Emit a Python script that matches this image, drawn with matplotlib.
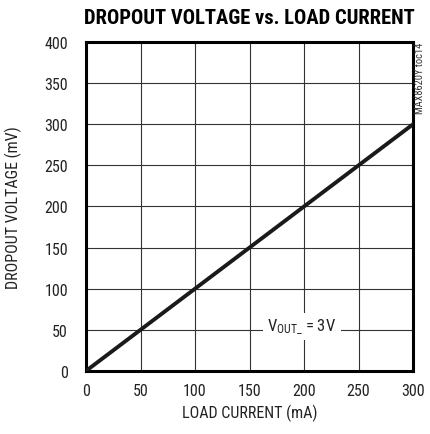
import matplotlib
matplotlib.use("Agg")
import matplotlib.pyplot as plt

plt.rcParams["font.family"] = ["Roboto Condensed", "DejaVu Sans"]
plt.rcParams["mathtext.fontset"] = "custom"
plt.rcParams["mathtext.rm"] = "Roboto Condensed"
plt.rcParams["mathtext.it"] = "Roboto Condensed"

load_current = [0, 50, 100, 150, 200, 250, 300]
dropout_mv = [0, 50, 100, 150, 200, 250, 300]
x_ticks = [0, 50, 100, 150, 200, 250, 300]
y_ticks = [0, 50, 100, 150, 200, 250, 300, 350, 400]

fig = plt.figure(figsize=(4.3, 4.35), dpi=100)
ax = fig.add_axes([0.2, 0.145, 0.7605, 0.756])

ax.plot(load_current, dropout_mv, color="#1a1a1a", linewidth=2.8, zorder=3)

ax.set_xlim(0, 300)
ax.set_ylim(0, 400)
ax.set_xticks(x_ticks)
ax.set_yticks(y_ticks)
ax.tick_params(axis="x", length=0, labelsize=11.5, pad=9, colors="#222222")
ax.tick_params(axis="y", length=0, labelsize=11.5, pad=13, colors="#222222")
ax.grid(True, color="#333333", linewidth=0.8)
for s in ax.spines.values():
    s.set_linewidth(2.2)
    s.set_color("black")

ax.set_xlabel("LOAD CURRENT (mA)", fontsize=11.5, labelpad=4, color="#222222")
ax.set_ylabel("DROPOUT VOLTAGE (mV)", fontsize=11.5, labelpad=16, color="#222222")

fig.text(0.58, 0.957, "DROPOUT VOLTAGE vs. LOAD CURRENT", ha="center", va="center",
         fontsize=14.8, fontweight="heavy")

ax.text(198, 54, r"V$_{\mathrm{OUT\_}}$ = 3V", ha="center", va="center", fontsize=12,
        color="#222222", bbox=dict(facecolor="white", edgecolor="none", pad=3), zorder=4)

fig.text(0.977, 0.902, "MAX8620Y toc14", rotation=90, ha="center", va="top", fontsize=7.5,
         color="#333333")

fig.savefig("out.png", dpi=100)
